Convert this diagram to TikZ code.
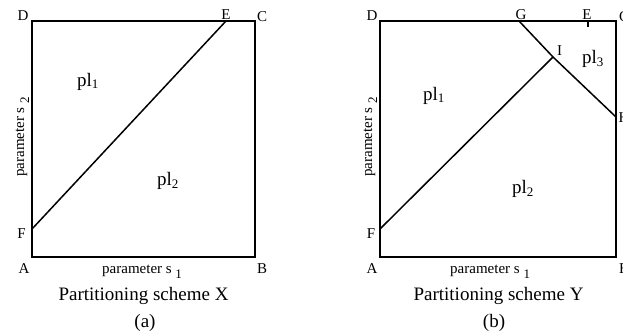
\documentclass[tikz,border=0pt]{standalone}
\usepackage{fontspec}
\setmainfont{Liberation Serif}
\usetikzlibrary{positioning}
\newcommand{\lowidx}[2]{\raisebox{-#1}{\fontsize{13}{13}\selectfont #2}}

\begin{document}
\begin{tikzpicture}[
    x=1pt, y=-1pt,
    frame/.style={line width=1.8pt, line join=miter},
    cut/.style={line width=1.5pt},
    corner/.style={font=\fontsize{15}{15}\selectfont, inner sep=0pt, anchor=base},
    region/.style={font=\fontsize{19}{19}\selectfont, inner sep=0pt, anchor=base west},
    axislbl/.style={font=\fontsize{15}{15}\selectfont, inner sep=0pt, anchor=base west},
    caption/.style={font=\fontsize{19}{19}\selectfont, inner sep=0pt, anchor=base}
]
  \useasboundingbox (0,0) rectangle (623,333);

  % Scheme X (left)
  \coordinate (aA) at (32,257); \coordinate (aB) at (255,257);
  \coordinate (aC) at (255,21); \coordinate (aD) at (32,21);
  \coordinate (aE) at (226,21); \coordinate (aF) at (32,229);
  \draw[frame] (aA) -- (aB) -- (aC) -- (aD) -- cycle;
  \draw[cut] (aF) -- (aE);
  \foreach \n/\x/\y in {D/23/20.5, E/226/19, C/262/21.5, F/21.5/238, A/24/273, B/262/273}{
    \node[corner] (la\n) at (\x,\y) {\n};
  }
  \node[region] (apl1) at (77,86) {pl\lowidx{2.5pt}{1}};
  \node[region] (apl2) at (157,185) {pl\lowidx{3pt}{2}};
  \node[axislbl] (as1) at (102,273) {parameter s \lowidx{5pt}{1}};
  \node[axislbl, rotate=90] (as2) at (24,177) {parameter s \lowidx{5pt}{2}};
  \node[caption] (acap) at (143.5,300) {Partitioning scheme X};
  \node[caption] (atag) at (145,327) {(a)};

  % Scheme Y (right)
  \coordinate (bA) at (380,257); \coordinate (bB) at (616,257);
  \coordinate (bC) at (616,21); \coordinate (bD) at (380,21);
  \coordinate (bG) at (519,21); \coordinate (bE) at (588,21);
  \coordinate (bEt) at (588,27); \coordinate (bI) at (553,57);
  \coordinate (bH) at (616,117); \coordinate (bF) at (380,229);
  \draw[frame] (bA) -- (bB) -- (bC) -- (bD) -- cycle;
  \draw[cut] (bF) -- (bI);
  \draw[cut] (bG) -- (bI) -- (bH);
  \draw[cut] (bE) -- (bEt);
  \foreach \n/\x/\y in {D/372/20.5, G/521/19, E/587/19, C/624/21.5, I/559.5/55, H/624/122, F/371/238, A/372/273, B/624/273}{
    \node[corner] (lb\n) at (\x,\y) {\n};
  }
  \node[region] (bpl1) at (423,100) {pl\lowidx{2.5pt}{1}};
  \node[region] (bpl2) at (512,193) {pl\lowidx{3pt}{2}};
  \node[region] (bpl3) at (582,63) {pl\lowidx{3pt}{3}};
  \node[axislbl] (bs1) at (450,273) {parameter s \lowidx{5pt}{1}};
  \node[axislbl, rotate=90] (bs2) at (372,177) {parameter s \lowidx{5pt}{2}};
  \node[caption] (bcap) at (498.5,300) {Partitioning scheme Y};
  \node[caption] (btag) at (494,327) {(b)};
\end{tikzpicture}
\end{document}
